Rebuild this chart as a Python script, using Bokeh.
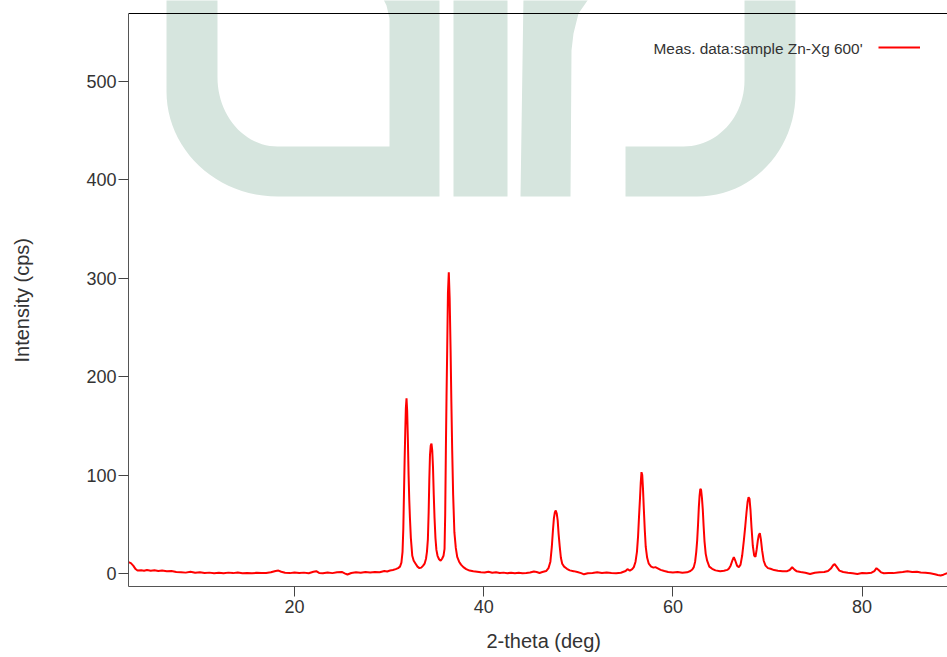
import math
from bokeh.plotting import figure
from bokeh.models import (Range1d, FixedTicker, LinearAxis, PolyAnnotation, Span,
                          Title, Label, Legend, LegendItem)
from bokeh.core.properties import value
from bokeh.embed import file_html
from bokeh.resources import INLINE

# ---------------- data ----------------
series_name = "Meas. data:sample Zn-Xg 600'"
x_title = "2-theta (deg)"
y_title = "Intensity (cps)"
x_ticks = [20, 40, 60, 80]
y_ticks = [0, 100, 200, 300, 400, 500]

two_theta = [
    2.45, 2.7, 2.95, 3.2, 3.4, 3.8, 4.1, 4.4, 4.8, 5.2, 5.6, 6.0, 6.5, 7.0, 7.5,
    8.0, 8.5, 9.0, 9.5, 10.0, 10.5, 11.0, 11.5, 12.0, 12.5, 13.0, 13.5, 14.0,
    14.5, 15.0, 15.5, 16.0, 16.5, 17.0, 17.5, 18.0, 18.3, 18.6, 19.0, 19.5,
    20.0, 20.5, 21.0, 21.5, 22.0, 22.3, 22.6, 23.0, 23.5, 24.0, 24.5, 25.0,
    25.3, 25.6, 26.0, 26.5, 27.0, 27.5, 28.0, 28.5, 29.0, 29.5, 29.8, 30.1,
    30.4,
    30.7, 30.95, 31.15, 31.3, 31.42, 31.5, 31.57, 31.64, 31.71, 31.77, 31.84,
    31.91, 31.98, 32.06, 32.13, 32.2, 32.3, 32.45, 32.6, 32.8, 33.0, 33.2,
    33.4, 33.6,
    33.75, 33.9, 34.0, 34.1, 34.18, 34.25, 34.32, 34.4, 34.48, 34.56, 34.64,
    34.72, 34.8, 34.9, 35.0, 35.12, 35.28, 35.45, 35.6,
    35.75, 35.86, 35.93, 36.0, 36.07, 36.14, 36.22, 36.31, 36.4, 36.5, 36.58,
    36.67, 36.77, 36.9, 37.05, 37.2, 37.4, 37.6, 37.85, 38.15, 38.5, 38.9,
    39.3, 39.7, 40.1, 40.5, 40.9, 41.3, 41.7, 42.1, 42.5, 42.9, 43.3, 43.7,
    44.1, 44.5, 44.9, 45.3, 45.6, 45.9, 46.2,
    46.6, 46.85, 47.05, 47.2, 47.32, 47.42, 47.52, 47.62, 47.72, 47.82, 47.92,
    48.04, 48.16, 48.3, 48.5, 48.8, 49.1, 49.5,
    49.9, 50.3, 50.6, 51.0, 51.5, 52.0, 52.5, 53.0, 53.5, 54.0, 54.5,
    55.0, 55.2, 55.45, 55.7, 55.87, 56.05, 56.2, 56.32, 56.42, 56.52, 56.6,
    56.68, 56.76, 56.84, 56.93, 57.03, 57.13, 57.28, 57.45, 57.7, 57.95,
    58.15, 58.35, 58.7, 59.1,
    59.5, 60.0, 60.5, 61.0,
    61.5, 61.85, 62.05, 62.21, 62.35, 62.47, 62.57, 62.66, 62.74, 62.82, 62.9,
    62.98, 63.07, 63.16, 63.25, 63.34, 63.47, 63.62, 63.85, 64.15, 64.5, 65.0,
    65.4, 65.75,
    65.91, 66.1, 66.28, 66.44, 66.6, 66.78, 66.97, 67.15, 67.32, 67.5, 67.65,
    67.78, 67.9, 68.0, 68.1, 68.2, 68.31, 68.45, 68.6, 68.73, 68.85, 68.97,
    69.08, 69.19, 69.3, 69.44, 69.6, 69.79, 70.05, 70.32, 70.7, 71.1, 71.6,
    72.08, 72.35, 72.61, 72.85, 73.1, 73.5, 74.0, 74.5, 75.0, 75.5, 76.0,
    76.4, 76.7, 76.95, 77.1, 77.3, 77.6, 78.0,
    78.5, 79.0, 79.5, 80.0, 80.5, 81.0, 81.3, 81.52, 81.75, 82.0, 82.3, 82.8,
    83.3, 83.8, 84.3, 84.8, 85.3, 85.8, 86.2, 86.7, 87.2, 87.7, 88.0, 88.3,
    88.6, 89.0,
]

intensity = [
    11.5, 10.5, 8.0, 4.5, 3.0, 3.4, 2.9, 3.6, 2.8, 3.3, 2.6, 3.0, 2.2, 2.5, 1.6,
    1.4, 0.9, 1.7, 0.7, 1.2, 0.5, 0.9, 0.3, 0.8, 0.2, 0.9, 0.4, 1.0,
    0.3, 0.6, 0.2, 0.7, 0.4, 0.5, 1.2, 2.6, 3.0, 1.8, 0.8, 0.4,
    1.0, 0.5, 0.9, 0.2, 1.8, 2.4, 0.6, 0.3, 1.0, 0.4, 1.2, 1.6,
    0.2, -1.0, 0.5, 1.2, 0.8, 1.5, 1.0, 1.6, 1.2, 2.6, 2.0, 3.0,
    3.6,
    4.5, 5.5, 7.0, 11, 22, 45, 80, 115, 145, 168, 178,
    165, 138, 100, 75, 57, 36, 18, 13, 10, 7, 5.5,
    6.0, 8.0,
    10, 15, 22, 35, 62, 95, 120, 130, 132, 125, 108,
    80, 57, 36, 24, 18, 14.5, 13, 15,
    18, 25, 60, 125, 180, 227, 285, 306, 280, 227, 175,
    125, 80, 42, 26, 17, 12, 9, 6.5, 4.5, 3.0, 2.2,
    1.8, 1.2, 1.0, 1.8, 0.8, 1.3, 0.5, 0.9, 0.3, 0.8, 0.2, 0.7,
    0.3, 0.6, 1.0, 2.0, 1.5, 0.6, 1.5,
    2.5, 5.5, 12, 27, 44, 56, 62, 64, 61, 54, 40,
    27, 16, 10, 7, 4.8, 3.2, 2.4,
    1.5, 0.4, -0.8, 0.2, 0.6, 1.2, 0.5, 1.0, 0.6, 0.3, 0.8,
    2.5, 4.4, 3.0, 4.5, 6.5, 12, 22, 38, 58, 76, 92,
    103, 100, 86, 65, 44, 27, 16, 10, 7, 6,
    6.5, 5.5, 3.7, 2.5,
    1.5, 1.0, 1.5, 0.8,
    1.2, 2.5, 4.0, 6.5, 12, 22, 34, 50, 67, 79, 86,
    85, 77, 65, 48, 33, 20, 13, 7, 4.8, 3.2, 2.4,
    2.8, 3.7,
    4.8, 8, 13, 16.5, 13, 8, 6.4, 9, 18, 33.5, 48,
    62, 73, 77.5, 76, 65, 47, 28, 18, 17, 24, 33,
    39, 41, 35, 23, 13, 8, 5.5, 4.8, 3.5, 2.8, 2.2,
    2.4, 3.6, 6.4, 4.0, 2.2, 1.5, 0.8, -0.5, 0.8, 1.2, 1.5,
    2.5, 5.0, 8.5, 9.5, 7.0, 3.0, 1.5,
    0.8, 0.2, -0.5, 0.5, 0.3, 0.8, 2.5, 5.4, 3.5, 1.2, 0.3, 0.6,
    0.4, 1.0, 1.5, 2.3, 1.6, 1.8, 1.0, 0.8, 0.2, -0.8, -1.5, -2.0,
    -1.2, 0.3,
]

# ---------------- layout geometry ----------------
W, H = 947, 657
FL, FR, FT, FB = 128, 947, 0, 586      # frame (extends to top so the watermark is not cut)
BOX_TOP = 13                           # visible top border line of the plot box
X0, X1 = 2.45, 89.03
Y0 = -13.2
Y1 = Y0 + (FB - FT) / 0.984            # 0.984 px per cps

FONT = "Liberation Sans"
TXT = "#333333"


def px2x(px):
    return X0 + (px - FL) / (FR - FL) * (X1 - X0)


def py2y(py):
    return Y0 + (FB - py) / (FB - FT) * (Y1 - Y0)


def arc(cx, cy, rx, ry, a0, a1, n=24):
    pts = []
    for i in range(n + 1):
        t = math.radians(a0 + (a1 - a0) * i / n)
        pts.append((cx + rx * math.cos(t), cy + ry * math.sin(t)))
    return pts


def spacer(size, at):
    # an invisible axis (white tick on white) that only takes up `size` px
    return LinearAxis(ticker=FixedTicker(ticks=[at]), axis_line_color=None,
                      major_tick_line_color="white", minor_tick_line_color=None,
                      major_tick_out=size, minor_tick_out=0, major_tick_in=0,
                      major_label_standoff=0, major_label_text_font_size="1px",
                      major_label_text_color="white",
                      major_label_overrides={at: ""})


p = figure(width=W, height=H, x_range=Range1d(X0, X1), y_range=Range1d(Y0, Y1),
           output_backend="svg", toolbar_location=None,
           min_border_left=FL, min_border_right=W - FR,
           min_border_top=FT, min_border_bottom=H - FB)
p.outline_line_color = None
p.background_fill_color = "white"
p.border_fill_color = "white"
p.xgrid.visible = False
p.ygrid.visible = False

# ---------------- watermark (decoration) ----------------
WM = "#d6e5de"
shape1 = ([(166, -5), (166, 91)] + arc(277, 91, 111, 105, 180, 90) +
          [(439, 196), (439, -5), (381, -5), (386, 5), (389, 18), (389, 146)] +
          arc(277, 77, 60, 69, 90, 180) + [(217, -5)])
shape2 = [(453, -5), (507, -5), (507, 196), (453, 196)]
shape3 = [(523, -5), (520, 196), (570, 196), (571, 50), (573, 33), (578, 13),
          (587, 0), (590, -5)]
shape4 = ([(744, -5)] + arc(683, 80, 61, 66, 0, 90) +
          [(625, 146), (625, 196)] + arc(697, 93, 98, 103, 90, 0) + [(795, -5)])
for shp in (shape1, shape2, shape3, shape4):
    pa = PolyAnnotation(xs=[px2x(a) for a, b in shp], ys=[py2y(b) for a, b in shp],
                        xs_units="data", ys_units="data",
                        fill_color=WM, fill_alpha=1.0, line_color=None,
                        level="underlay")
    p.add_layout(pa)

# top border line of the plot box
p.add_layout(Span(location=py2y(BOX_TOP), dimension="width",
                  line_color="black", line_width=1))

# ---------------- data line ----------------
r = p.line(two_theta, intensity, line_color="#ff0000", line_width=2)

# ---------------- axes ----------------
for ax in (p.xaxis[0], p.yaxis[0]):
    ax.major_label_text_font = FONT
    ax.major_label_text_font_size = "18px"
    ax.major_label_text_color = TXT
    ax.major_tick_out = 10
    ax.major_tick_in = 0
    ax.minor_tick_line_color = None
    ax.major_tick_line_color = "#444444"
    ax.axis_line_color = "#555555"

p.xaxis[0].ticker = FixedTicker(ticks=x_ticks)
p.yaxis[0].ticker = FixedTicker(ticks=y_ticks)
p.xaxis[0].major_label_standoff = 3
p.yaxis[0].major_label_standoff = 2
p.yaxis[0].bounds = (Y0, py2y(BOX_TOP))

# axis titles as side titles (offset from the frame's start)
p.add_layout(spacer(12, 10), "below")
p.add_layout(Title(text=x_title, align="left", offset=486 - FL, standoff=0,
                   text_font=FONT, text_font_size="20px",
                   text_font_style="normal", text_color=TXT), "below")
p.add_layout(spacer(51, 0), "left")
p.add_layout(Title(text=y_title, align="left", offset=FB - 362, standoff=0,
                   text_font=FONT, text_font_size="20px",
                   text_font_style="normal", text_color=TXT), "left")

# ---------------- legend (text left, sample line right) ----------------
p.add_layout(Label(x=px2x(653), y=py2y(48), text=series_name,
                   text_font=FONT, text_font_size="15.4px", text_color=TXT,
                   text_align="left", text_baseline="middle"))
leg = Legend(items=[LegendItem(label=value(" "), renderers=[r])],
             location=(878 - FL, FB - 55),
             glyph_width=42, glyph_height=16, label_width=0, label_height=16,
             label_standoff=0, padding=0, margin=0, spacing=0,
             label_text_font_size="2px",
             border_line_color=None, background_fill_alpha=0)
p.add_layout(leg, "center")

open("out.html", "w").write(file_html(p, INLINE))
